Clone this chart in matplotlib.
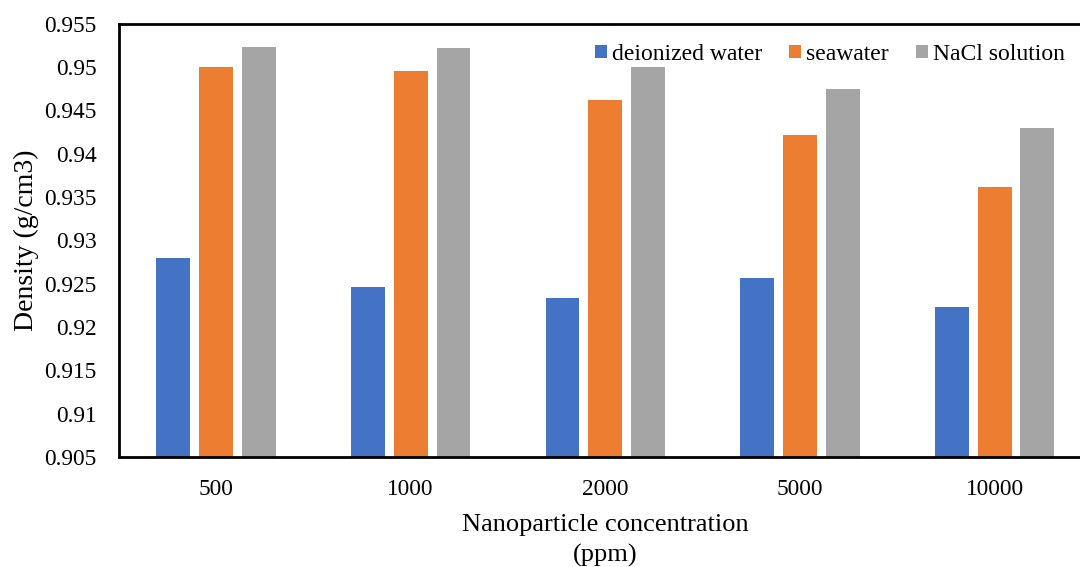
import numpy as np
import matplotlib
matplotlib.use("Agg")
import matplotlib.pyplot as plt

# data
concentrations = ['500', '1000', '2000', '5000', '10000']
deionized = [0.9280, 0.9246, 0.9234, 0.9257, 0.9223]
seawater = [0.9500, 0.9495, 0.9462, 0.9422, 0.9362]
nacl = [0.9523, 0.9522, 0.9500, 0.9475, 0.9430]

plt.rcParams['font.family'] = ['Liberation Serif', 'DejaVu Serif']

fig = plt.figure(figsize=(10.8, 5.67), dpi=100)
ax = fig.add_axes([0.110, 0.194, 0.901, 0.764])

x = np.arange(len(concentrations))
w = 0.174
step = 0.22
ax.bar(x - step, deionized, w, color='#4472C4', label='deionized water')
ax.bar(x, seawater, w, color='#ED7D31', label='seawater')
ax.bar(x + step, nacl, w, color='#A5A5A5', label='NaCl solution')

ax.set_xlim(-0.5, 4.5)
ax.set_ylim(0.905, 0.955)
ax.set_yticks(np.arange(0.905, 0.9551, 0.005))
ax.set_yticklabels(['0.905', '0.91', '0.915', '0.92', '0.925', '0.93',
                    '0.935', '0.94', '0.945', '0.95', '0.955'])
ax.set_xticks(x)
ax.set_xticklabels(concentrations)
ax.tick_params(axis='both', length=0, labelsize=16.8)
ax.tick_params(axis='x', pad=16)
ax.tick_params(axis='y', pad=16)

for s in ax.spines.values():
    s.set_linewidth(2)
    s.set_color('black')

ax.set_ylabel('Density (g/cm3)', fontsize=20, labelpad=4)
ax.set_xlabel('Nanoparticle concentration\n(ppm)', fontsize=19, labelpad=10,
              linespacing=1.45)

# legend pinned to figure coords, no frame
leg = fig.legend(loc='upper right', bbox_to_anchor=(0.986, 0.923),
                 bbox_transform=fig.transFigure, ncol=3, frameon=False,
                 fontsize=17, handlelength=0.5, handleheight=0.5,
                 handletextpad=0.22, columnspacing=1.15,
                 borderpad=0, borderaxespad=0)

fig.savefig('out.png', dpi=100)
